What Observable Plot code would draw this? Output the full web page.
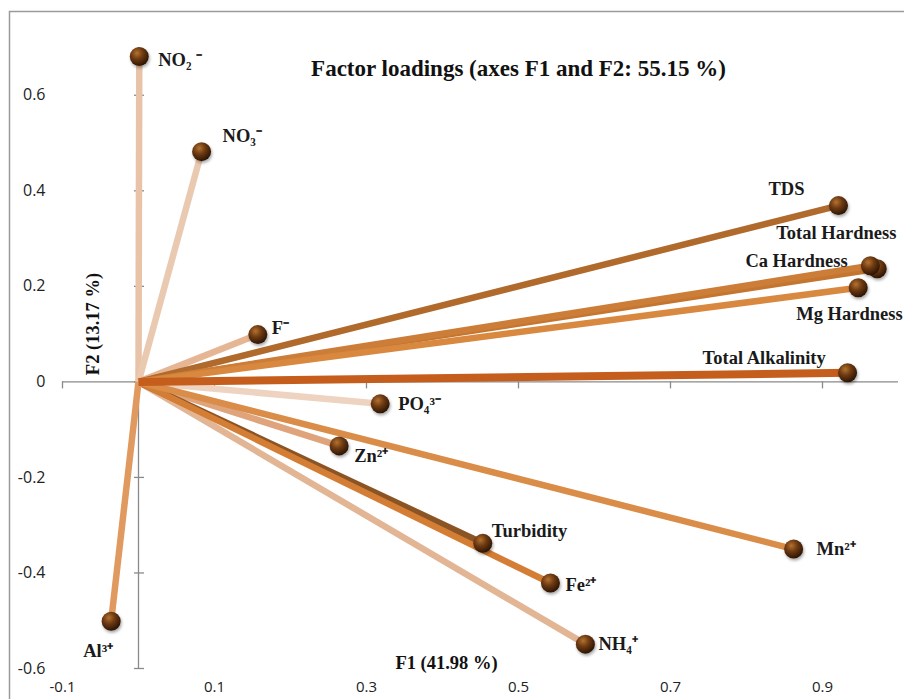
<!DOCTYPE html>
<html><head><meta charset="utf-8">
<script src="https://cdn.jsdelivr.net/npm/d3@7"></script>
<script src="https://cdn.jsdelivr.net/npm/@observablehq/plot@0.6"></script>
<style>
html,body{margin:0;padding:0;background:#fff;}
#chart svg{display:block}
</style></head>
<body><div id="chart"></div>
<script>
// ---- data ----
const variables = ["NO₂ ⁻","NO₃⁻","F⁻","TDS","Total Hardness","Ca Hardness","Mg Hardness","Total Alkalinity","PO₄³⁻","Zn²⁺","Turbidity","Fe²⁺","NH₄⁺","Mn²⁺","Al³⁺"];
const f1 = [0.001, 0.083, 0.157, 0.921, 0.972, 0.963, 0.947, 0.933, 0.318, 0.264, 0.453, 0.542, 0.588, 0.862, -0.036];
const f2 = [0.681, 0.482, 0.099, 0.369, 0.237, 0.243, 0.197, 0.019, -0.046, -0.134, -0.338, -0.421, -0.549, -0.350, -0.501];
const lineColors = ["#e8c3a8","#e9c9b0","#e6b694","#b06a2c","#c47530","#cc7d38","#d8883f","#c55e1d","#eed3c0","#dfa47c","#8b5424","#d47e35","#e2b595","#d98d48","#e09a60"];
const lineWidths = [6.5,6.5,6.5,6.5,6.5,6.5,6.5,8,6.5,6.5,7,6.5,6.5,6.5,6.5];
const drawOrder = [0,1,2,3,4,5,6,8,9,12,10,11,13,14,7];
const labelOffsets = [[19,4],[21,-16],[14,-7],[-70,-17],[-101,-36],[-125,-5],[-62,26],[-145,-15],[18,0],[15,10],[9,-12],[15,2],[13,0],[23,0],[-28,30]];
const xDomain = [-0.1, 1.0];
const yDomain = [-0.6, 0.7];
const xTicks = [-0.1, 0.1, 0.3, 0.5, 0.7, 0.9];
const xTickLabels = ["-0.1","0.1","0.3","0.5","0.7","0.9"];
const yTicks = [-0.6, -0.4, -0.2, 0, 0.2, 0.4, 0.6];
const yTickLabels = ["-0.6","-0.4","-0.2","0","0.2","0.4","0.6"];
const title = "Factor loadings (axes F1 and F2: 55.15 %)";
const xTitle = "F1 (41.98 %)";
const yTitle = "F2 (13.17 %)";

const data = variables.map((v, i) => ({name: v, f1: f1[i], f2: f2[i], color: lineColors[i], w: lineWidths[i]}));
const ordered = drawOrder.map(i => data[i]);

const serif = "'Liberation Serif','Times New Roman',serif";
const sans = "'Open Sans','Liberation Sans',sans-serif";

const labelMarks = data.map((d, i) => Plot.text([d], {
  x: "f1", y: "f2", text: "name", textAnchor: "start",
  dx: labelOffsets[i][0], dy: labelOffsets[i][1],
  fontFamily: serif, fontWeight: "bold", fontSize: 18.5, fill: "#1a1a1a"
}));

const plot = Plot.plot({
  width: 904, height: 699,
  marginLeft: 62, marginRight: 6, marginTop: 47, marginBottom: 31,
  x: {domain: xDomain, axis: null},
  y: {domain: yDomain, axis: null},
  color: {type: "identity"},
  style: {background: "white", overflow: "visible"},
  marks: [
    Plot.frame({stroke: "#9a9a9a", strokeWidth: 1.5, insetLeft: -53, insetTop: -36, insetRight: -20, insetBottom: -60}),
    // axes
    Plot.ruleY([0], {x1: xDomain[0], x2: xDomain[1], stroke: "#8a8a8a", strokeWidth: 1.3}),
    Plot.ruleX([0], {y1: yDomain[0], y2: yDomain[1], stroke: "#8a8a8a", strokeWidth: 1.3}),
    Plot.ruleX(xTicks, {x: d => d, y1: 0, y2: 0, insetTop: 0, insetBottom: -7, stroke: "#8a8a8a", strokeWidth: 1.3}),
    Plot.ruleY(yTicks, {y: d => d, x1: 0, x2: 0, insetLeft: -4, insetRight: -6, stroke: "#8a8a8a", strokeWidth: 1.3}),
    Plot.text(yTicks, {x: xDomain[0], y: d => d, text: (d, i) => yTickLabels[i], textAnchor: "end", dx: -17, fontFamily: sans, fontSize: 16, fill: "#222"}),
    Plot.text(xTicks, {x: d => d, y: yDomain[0], text: (d, i) => xTickLabels[i], dy: 19, fontFamily: sans, fontSize: 15, fill: "#222"}),
    // loading vectors
    Plot.link(ordered, {x1: () => 0, y1: () => 0, x2: "f1", y2: "f2", stroke: "color", strokeWidth: "w", strokeLinecap: "butt"}),
    Plot.dot(data, {x: "f1", y: "f2", r: 9.5, fill: "#5b3010", stroke: "none"}),
    ...labelMarks,
    // titles
    Plot.text([title], {frameAnchor: "top", textAnchor: "middle", lineAnchor: "middle", dx: 38, dy: 21, fontFamily: serif, fontWeight: "bold", fontSize: 23, fill: "#111"}),
    Plot.text([xTitle], {frameAnchor: "bottom", textAnchor: "middle", lineAnchor: "middle", dx: -34, dy: -5, fontFamily: serif, fontWeight: "bold", fontSize: 18.5, fill: "#111"}),
    Plot.text([yTitle], {frameAnchor: "left", textAnchor: "middle", lineAnchor: "middle", dx: 31, dy: -34, rotate: -90, fontFamily: serif, fontWeight: "bold", fontSize: 18.5, fill: "#111"})
  ]
});

const svg = d3.select(plot);
const defs = svg.insert("defs", ":first-child");
const grad = defs.append("radialGradient").attr("id", "ball").attr("cx", "38%").attr("cy", "32%").attr("r", "70%");
grad.append("stop").attr("offset", "0%").attr("stop-color", "#b3722f");
grad.append("stop").attr("offset", "45%").attr("stop-color", "#6e3a12");
grad.append("stop").attr("offset", "100%").attr("stop-color", "#2a1303");
svg.selectAll('g[aria-label="dot"]').attr("fill", "url(#ball)").style("filter", "drop-shadow(1px 2px 1.5px rgba(0,0,0,0.35))");

document.getElementById("chart").appendChild(plot);
</script>
</body></html>
